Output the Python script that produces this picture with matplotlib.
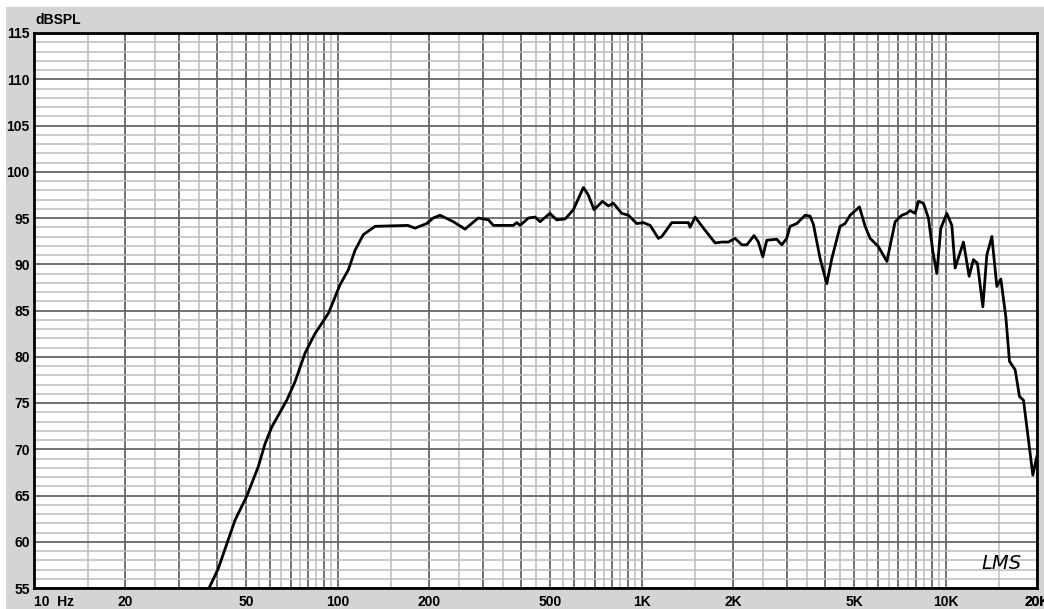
import matplotlib
matplotlib.use("Agg")
import matplotlib.pyplot as plt
from matplotlib.patches import Rectangle
import numpy as np

# frequency response
freq = [37.7, 40.4, 45.9, 50.1, 54.7, 57.6, 60.6, 67.9, 72.3, 78.0, 84.1, 93.1,
        101.7, 108.3, 113.9, 121.3, 132.6, 170, 179.5, 196, 206, 217, 240, 262,
        290, 313, 325, 378, 388, 398, 424, 446, 463, 499, 525, 560, 596, 643,
        667, 697, 743, 777, 807, 860, 904, 963, 1013, 1066, 1135, 1165, 1256,
        1425, 1443, 1499, 1597, 1745, 1834, 1929, 2030, 2136, 2218, 2344, 2422,
        2503, 2580, 2783, 2891, 3002, 3080, 3240, 3450, 3583, 3675, 3866, 4066,
        4223, 4498, 4671, 4853, 5209, 5437, 5647, 6015, 6411, 6826, 7181, 7457,
        7646, 7942, 8147, 8455, 8784, 9082, 9362, 9650, 10099, 10489, 10755,
        11455, 11958, 12354, 12735, 13268, 13675, 14205, 14752, 15206, 15794,
        16234, 16944, 17514, 18055, 19380, 19974]
spl = [55.0, 57.1, 62.35, 64.9, 68.1, 70.6, 72.4, 75.3, 77.3, 80.4, 82.5, 84.7,
       87.8, 89.4, 91.5, 93.2, 94.1, 94.2, 93.9, 94.4, 95.0, 95.3, 94.6, 93.8,
       95.0, 94.8, 94.2, 94.2, 94.5, 94.2, 95.0, 95.1, 94.6, 95.5, 94.8, 94.9,
       95.9, 98.3, 97.5, 95.9, 96.8, 96.3, 96.6, 95.5, 95.3, 94.4, 94.5, 94.2,
       92.8, 93.0, 94.5, 94.5, 94.0, 95.1, 93.9, 92.3, 92.4, 92.4, 92.8, 92.1,
       92.1, 93.1, 92.4, 90.8, 92.6, 92.7, 92.1, 92.8, 94.1, 94.4, 95.3, 95.2,
       94.3, 90.6, 87.9, 90.6, 94.1, 94.4, 95.3, 96.2, 94.1, 92.8, 91.9, 90.3,
       94.6, 95.3, 95.5, 95.8, 95.5, 96.8, 96.6, 95.0, 91.4, 89.0, 93.9, 95.5,
       94.2, 89.6, 92.4, 88.7, 90.5, 90.1, 85.4, 91.0, 93.0, 87.6, 88.4, 84.3,
       79.5, 78.6, 75.7, 75.3, 67.2, 69.2]

xlabels = {10: "10  Hz", 20: "20", 50: "50", 100: "100", 200: "200", 500: "500",
           1000: "1K", 2000: "2K", 5000: "5K", 10000: "10K", 20000: "20K"}

plt.rcParams['font.family'] = ['Liberation Sans', 'DejaVu Sans']

fig = plt.figure(figsize=(10.44, 6.09), dpi=100, facecolor='white')
bg = Rectangle((6/1044, 0), 1, 1 - 7/609, transform=fig.transFigure,
               facecolor='#d4d4d4', edgecolor='none', zorder=-10)
fig.patches.append(bg)
ax = fig.add_axes([34/1044, 1 - 588/609, 1003/1044, 555/609])
ax.set_facecolor('white')

# grid positions: dark at k*10^n, light at (k+0.5)*10^n
major_x = []
minor_x = []
for dec in [10, 100, 1000, 10000]:
    for k in range(1, 10):
        if k * dec <= 20000:
            major_x.append(k * dec)
        if (k + 0.5) * dec < 20000:
            minor_x.append((k + 0.5) * dec)
major_x.append(20000)

ax.set_xscale('log')
ax.set_xlim(10, 20000)
ax.set_ylim(55, 115)
ax.set_xticks(major_x)
ax.set_xticklabels([xlabels.get(v, "") for v in major_x])
ax.set_xticks(minor_x, minor=True)
ax.set_xticklabels([], minor=True)
ax.set_yticks(np.arange(55, 116, 5))
ax.set_yticks(np.arange(55, 116, 1), minor=True)
ax.set_yticklabels([], minor=True)

ax.grid(which='major', color='#666666', lw=1.3)
ax.grid(which='minor', color='#bcbcbc', lw=1.1)
ax.set_axisbelow(True)
ax.tick_params(which='both', length=0)
ax.tick_params(axis='x', pad=5, labelsize=10)
ax.tick_params(axis='y', pad=3, labelsize=10)
for lab in ax.get_xticklabels() + ax.get_yticklabels():
    lab.set_fontweight('bold')
ax.get_xticklabels()[0].set_ha('left')

for s in ax.spines.values():
    s.set_linewidth(2)
    s.set_color('black')

ax.plot(freq, spl, color='black', lw=2.0, clip_on=True, zorder=3)

fig.text(35/1044, 1 - 20/609, "dBSPL", fontsize=10, fontweight='bold', va='center', ha='left')
ax.text(0.945, 0.045, "LMS", transform=ax.transAxes, fontsize=14, style='italic',
        family='DejaVu Sans', ha='left', va='center', color='black')

plt.savefig("out.png", dpi=100, facecolor=fig.get_facecolor())
